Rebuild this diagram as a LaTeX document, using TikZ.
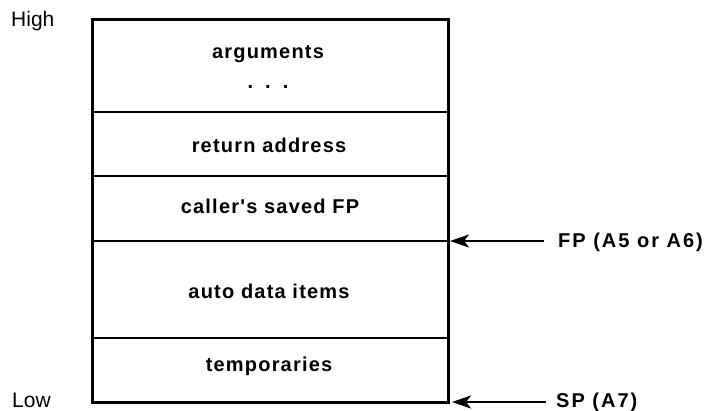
\documentclass[tikz,border=0pt]{standalone}
\usepackage{fontspec}
\setmainfont{Liberation Sans}
\newfontfamily\scanfont[LetterSpace=6]{Liberation Sans}
\newfontfamily\ptrfont[LetterSpace=10]{Liberation Sans}
\usetikzlibrary{arrows.meta}
\tikzset{
  frame/.style={line width=3pt, line cap=rect},
  sep/.style={line width=2.5pt},
  lbl/.style={font=\scanfont\bfseries\fontsize{20}{22}\selectfont, inner sep=0pt, anchor=base},
  plbl/.style={font=\ptrfont\bfseries\fontsize{20}{22}\selectfont, inner sep=0pt, anchor=base west},
  side/.style={font=\fontsize{21}{23}\selectfont, inner sep=0pt, anchor=base west},
  ptr/.style={line width=2.2pt, -{Stealth[length=19pt,width=13pt,inset=5pt]}},
}
\begin{document}
\begin{tikzpicture}[x=1pt,y=-1pt]
\useasboundingbox (0,0) rectangle (711,410);
% frame corners
\coordinate (tl) at (92,19);
\coordinate (br) at (448,402);
\draw[frame] (tl) rectangle (br);
% separators
\coordinate (s1l) at (92,112); \coordinate (s1r) at (448,112);
\coordinate (s2l) at (92,176); \coordinate (s2r) at (448,176);
\coordinate (s3l) at (92,241); \coordinate (s3r) at (448,241);
\coordinate (s4l) at (92,338); \coordinate (s4r) at (448,338);
\draw[sep] (s1l) -- (s1r);
\draw[sep] (s2l) -- (s2r);
\draw[sep] (s3l) -- (s3r);
\draw[sep] (s4l) -- (s4r);
% labels
\node[lbl] (args) at (268,58) {arguments};
\node[lbl] (dots) at (268,88) {.\hspace{12pt}.\hspace{12pt}.};
\node[lbl] (ret) at (269,152) {return address};
\node[lbl] (cfp) at (270,213) {caller's saved FP};
\node[lbl] (auto) at (269,298) {auto data items};
\node[lbl] (temp) at (269,371) {temporaries};
\node[side] (high) at (11,26) {High};
\node[side] (low) at (12,407) {Low};
% pointers
\node[plbl] (fp) at (558,247) {FP (A5 or A6)};
\node[plbl] (sp) at (556,407) {SP (A7)};
\coordinate (fptip) at (450,241);
\coordinate (sptip) at (452,402);
\coordinate (fptail) at (544,241);
\coordinate (sptail) at (546,402);
\draw[ptr] (fptail) -- (fptip);
\draw[ptr] (sptail) -- (sptip);
\end{tikzpicture}
\end{document}
